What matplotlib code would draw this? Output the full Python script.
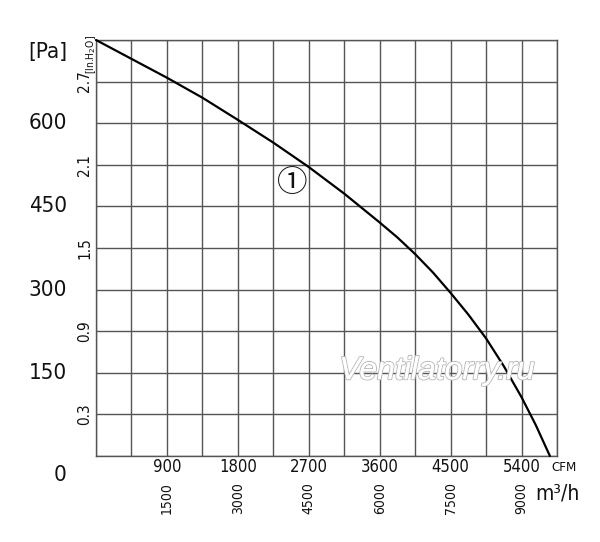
import matplotlib
matplotlib.use("Agg")
import matplotlib.pyplot as plt
import matplotlib.patheffects as pe
import numpy as np

# Data
cfm = [0, 450, 900, 1350, 1800, 2250, 2700, 3150, 3600, 3825, 4050, 4275, 4500,
       4725, 4950, 5175, 5400, 5580, 5760]
pa = [750, 716, 682, 646, 606, 565, 521, 473, 421, 394, 364, 331, 294,
      255, 212, 162, 106, 56, 0]

pa_ticks = [150, 300, 450, 600]
inh2o_ticks = [0.3, 0.9, 1.5, 2.1, 2.7]
cfm_ticks = [900, 1800, 2700, 3600, 4500, 5400]
m3h_ticks = [1500, 3000, 4500, 6000, 7500, 9000]

PA_PER_INH2O = 250.0
CFM_PER_M3H = 0.6

FAM = ['DejaVu Sans']
ST = 'condensed'
TC = '#111111'

fig = plt.figure(figsize=(6.0, 5.42), dpi=100)
ax = fig.add_axes([96/600, 1-456/542, (557-96)/600, (456-40)/542])
ax.set_xlim(0, 5850)
ax.set_ylim(0, 750)
ax.set_xticks(np.arange(0, 5851, 450))
ax.set_yticks(np.arange(0, 751, 75))
ax.tick_params(length=0, labelbottom=False, labelleft=False)
ax.grid(True, color='#555555', linewidth=1.0)
for s in ax.spines.values():
    s.set_color('#555555')
    s.set_linewidth(1.0)
ax.set_axisbelow(True)

ax.plot(cfm, pa, color='black', linewidth=1.6, solid_capstyle='round',
        solid_joinstyle='round', zorder=3, clip_on=False)

tr_y = ax.get_yaxis_transform()
tr_x = ax.get_xaxis_transform()

# Pa labels
for v in pa_ticks:
    ax.text(-0.063, v, str(v), transform=tr_y, ha='right', va='center',
            fontsize=16, family=FAM, fontstretch=ST, color=TC)
ax.text(-0.063, -0.045, '0', transform=ax.transAxes, ha='right', va='center',
        fontsize=16, family=FAM, fontstretch=ST, color=TC)
ax.text(-0.063, 0.97, '[Pa]', transform=ax.transAxes, ha='right', va='center',
        fontsize=16, family=FAM, fontstretch=ST, color=TC)

# in.H2O labels
for v in inh2o_ticks:
    ax.text(-0.024, v*PA_PER_INH2O, str(v), transform=tr_y, ha='center', va='center',
            rotation=90, fontsize=11, family=FAM, fontstretch=ST, color=TC)
ax.text(-0.011, 0.965, '[In.H$_2$O]', transform=ax.transAxes, ha='center', va='center',
        rotation=90, fontsize=7.5, family=FAM, fontstretch=ST, color=TC)

# CFM labels
for v in cfm_ticks:
    ax.text(v, -0.027, str(v), transform=tr_x, ha='center', va='center',
            fontsize=12, family=FAM, fontstretch=ST, color=TC)
ax.text(1.015, -0.027, 'CFM', transform=ax.transAxes, ha='center', va='center',
        fontsize=9.5, family=FAM, fontstretch=ST, color=TC)

# m3/h labels
for v in m3h_ticks:
    ax.text(v*CFM_PER_M3H, -0.1, str(v), transform=tr_x, ha='center', va='center',
            rotation=90, fontsize=10, family=FAM, fontstretch=ST, color=TC)
ax.text(1.0, -0.09, 'm\u00b3/h', transform=ax.transAxes, ha='center', va='center',
        fontsize=15, family=FAM, fontstretch=ST, color=TC)

# curve number
ax.text(2487, 492, '\u2460', ha='center', va='center', fontsize=22,
        family=['DejaVu Serif', 'Noto Sans CJK SC', 'DejaVu Sans'], color=TC, zorder=4)

# watermark
wm = ax.text(4327, 153, 'Ventilatorry.ru', ha='center', va='center', fontsize=23,
             style='italic', family=['Liberation Sans', 'DejaVu Sans'], color='white', zorder=5)
wm.set_path_effects([pe.withStroke(linewidth=1.5, foreground='#bbbbbb'), pe.Normal()])

fig.savefig('out.png', dpi=100)
